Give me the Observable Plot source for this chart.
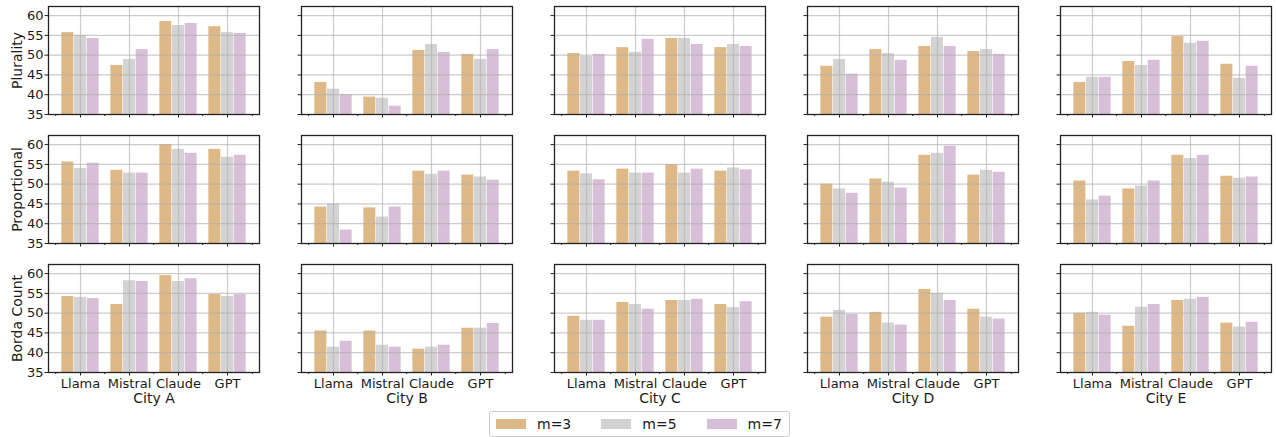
<!DOCTYPE html>
<html>
<head>
<meta charset="utf-8">
<script src="https://cdn.jsdelivr.net/npm/d3@7"></script>
<script src="https://cdn.jsdelivr.net/npm/@observablehq/plot@0.6"></script>
<style>
  html, body { margin: 0; padding: 0; background: #fff; }
  #wrap { position: relative; width: 1276px; height: 437px; font-family: "DejaVu Sans", sans-serif; color: #1a1a1a; }
  #legend { position: absolute; left: 489px; top: 411px; width: 299px; height: 24px; border: 1px solid #cccccc; border-radius: 3px; box-sizing: content-box; display: flex; align-items: center; font-size: 14px; }
  .item { display: flex; align-items: center; }
  .sw { width: 30px; height: 10.5px; margin-left: 6px; margin-right: 11px; }
</style>
</head>
<body>
<div id="wrap"><div id="chart"></div><div id="legend"></div></div>
<script>
const cities = ["City A", "City B", "City C", "City D", "City E"];
const methods = ["Plurality", "Proportional", "Borda Count"];
const models = ["Llama", "Mistral", "Claude", "GPT"];
const series = ["m=3", "m=5", "m=7"];
const colors = ["#deb887", "#d3d3d3", "#d8bfd8"];
const yTicks = [35, 40, 45, 50, 55, 60];

// values[city][series][model]
const plurality = [
  [[55.7, 47.4, 58.5, 57.2], [55.0, 48.9, 57.5, 55.7], [54.2, 51.4, 58.0, 55.5]],
  [[43.1, 39.4, 51.2, 50.2], [41.4, 39.1, 52.7, 48.9], [40.0, 37.1, 50.7, 51.4]],
  [[50.4, 51.9, 54.2, 51.9], [49.7, 50.7, 54.2, 52.7], [50.2, 54.0, 52.7, 52.2]],
  [[47.2, 51.4, 52.2, 50.9], [48.9, 50.4, 54.5, 51.4], [45.2, 48.7, 52.2, 50.2]],
  [[43.1, 48.4, 54.7, 47.7], [44.4, 47.4, 53.0, 44.1], [44.4, 48.7, 53.5, 47.2]]
];
const proportional = [
  [[55.6, 53.5, 60.0, 58.8], [54.0, 52.8, 58.8, 56.8], [55.3, 52.8, 57.8, 57.3]],
  [[44.2, 44.0, 53.3, 52.3], [45.0, 41.7, 52.5, 51.8], [38.4, 44.2, 53.3, 51.0]],
  [[53.3, 53.8, 54.9, 53.3], [52.6, 52.8, 52.8, 54.1], [51.1, 52.8, 53.8, 53.6]],
  [[50.0, 51.3, 57.3, 52.3], [48.8, 50.5, 57.8, 53.5], [47.7, 49.0, 59.6, 53.0]],
  [[50.8, 48.8, 57.3, 52.0], [46.0, 49.5, 56.5, 51.5], [47.0, 50.8, 57.3, 51.8]]
];
const borda = [
  [[54.2, 52.2, 59.5, 54.7], [54.0, 58.2, 58.0, 54.2], [53.7, 58.0, 58.7, 54.7]],
  [[45.5, 45.5, 40.9, 46.2], [41.4, 41.9, 41.4, 46.2], [42.9, 41.4, 41.9, 47.4]],
  [[49.2, 52.7, 53.2, 52.2], [48.2, 52.2, 53.2, 51.4], [48.2, 51.0, 53.5, 52.9]],
  [[49.0, 50.2, 56.0, 51.0], [50.7, 47.5, 55.0, 49.0], [49.7, 47.0, 53.2, 48.5]],
  [[50.0, 46.7, 53.2, 47.5], [50.2, 51.5, 53.5, 46.5], [49.5, 52.2, 54.0, 47.7]]
];

const tables = [plurality, proportional, borda];
const rows = [];
methods.forEach((method, mi) => {
  cities.forEach((city, ci) => {
    series.forEach((s, si) => {
      models.forEach((model, k) => {
        rows.push({method, city, series: s, model, value: tables[mi][ci][si][k]});
      });
    });
  });
});

const W = 1276, H = 408;
const mL = 48, mR = 4, mT = 6, mB = 36;
const fxPad = 0.166, fyPad = 0.163;
const xPadIn = 0.745, xPadOut = 0.5;
const fxBand = (W - mL - mR) / (cities.length - fxPad) * (1 - fxPad);
const xStep = fxBand / (models.length - xPadIn + 2 * xPadOut);
const bw = xStep * (1 - xPadIn);

const gridStyle = {stroke: "#b0b0b0", strokeOpacity: 0.65, strokeWidth: 1.2};

const chart = Plot.plot({
  width: W, height: H,
  marginLeft: mL, marginRight: mR, marginTop: mT, marginBottom: mB,
  style: {fontFamily: "DejaVu Sans, sans-serif", fontSize: "13px", color: "#1a1a1a", background: "white", overflow: "visible"},
  fx: {domain: cities, paddingInner: fxPad, paddingOuter: 0},
  fy: {domain: methods, paddingInner: fyPad, paddingOuter: 0, axis: null},
  x: {domain: models, paddingInner: xPadIn, paddingOuter: xPadOut, align: 0.5},
  y: {domain: [35, 62.3]},
  color: {domain: series, range: colors},
  marks: [
    ...series.map((s, i) => Plot.barY(rows.filter(d => d.series === s), {
      fx: "city", fy: "method", x: "model", y: "value", fill: "series",
      dx: (i - 1) * bw, clip: true
    })),
    Plot.gridY({ticks: yTicks, ...gridStyle}),
    Plot.gridX({...gridStyle}),
    Plot.frame({stroke: "#222", strokeWidth: 1.3}),
    Plot.axisY({ticks: yTicks, facetAnchor: null, tickSize: 3.5, tickFormat: () => "", label: null, stroke: "#222"}),
    Plot.axisY({ticks: yTicks, tickSize: 0, tickPadding: 5, label: null, fontSize: 13, fill: "#1a1a1a"}),
    Plot.axisX({facetAnchor: null, tickSize: 3.5, tickFormat: () => "", label: null, stroke: "#222"}),
    Plot.axisX({facetAnchor: null, tickSize: 2, tickFormat: () => "", label: null, stroke: "#222", dx: -xStep / 2}),
    Plot.axisX({ticks: [models[models.length - 1]], facetAnchor: null, tickSize: 2, tickFormat: () => "", label: null, stroke: "#222", dx: xStep / 2}),
    Plot.axisX({tickSize: 0, tickPadding: 6, label: null, fontSize: 13, fill: "#1a1a1a"}),
    Plot.axisFx({anchor: "bottom", tickSize: 0, tickPadding: 20.5, label: null, fontSize: 14, fill: "#1a1a1a"}),
    Plot.text(methods, {fx: () => cities[0], fy: d => d, text: d => d, frameAnchor: "left", textAnchor: "middle", lineAnchor: "middle", rotate: -90, dx: -31, fontSize: 14, fill: "#1a1a1a"})
  ]
});
document.getElementById("chart").appendChild(chart);

const legend = document.getElementById("legend");
series.forEach((s, i) => {
  const item = document.createElement("div");
  item.className = "item";
  item.style.marginRight = i < series.length - 1 ? "24px" : "0";
  const sw = document.createElement("div");
  sw.className = "sw";
  sw.style.background = colors[i];
  const lab = document.createElement("span");
  lab.textContent = s;
  item.appendChild(sw);
  item.appendChild(lab);
  legend.appendChild(item);
});
</script>
</body>
</html>
